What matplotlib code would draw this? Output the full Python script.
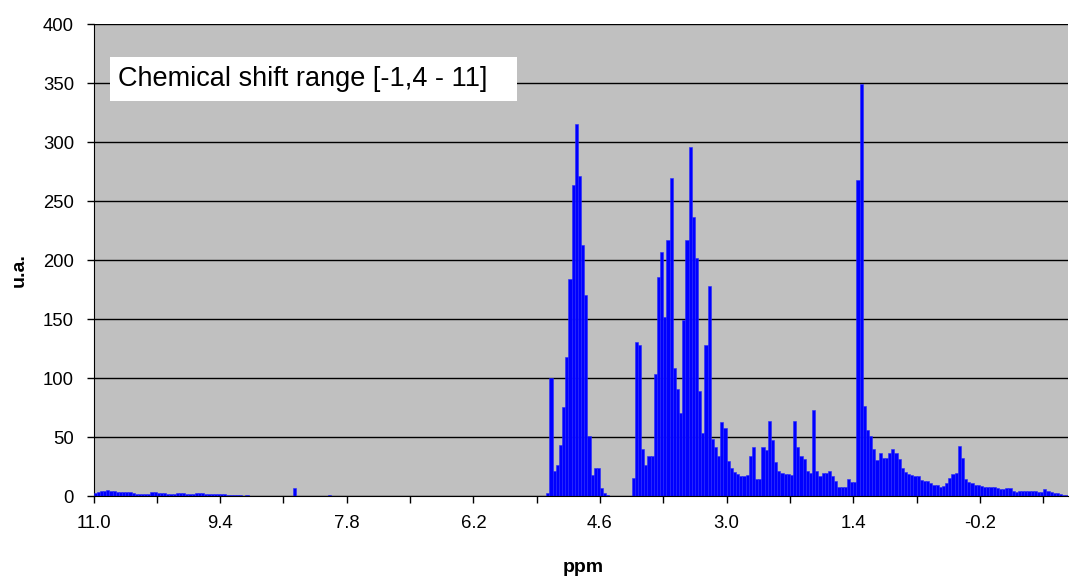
import matplotlib
matplotlib.use('Agg')
import matplotlib.pyplot as plt
from matplotlib.patches import Rectangle
import numpy as np

plt.rcParams['font.family'] = ['Liberation Sans', 'DejaVu Sans']

# category axis: 0.04 ppm bins starting at 11.0 ppm
ppm_start = 11.0
ppm_step = 0.04

# intensities (u.a.) per bin, left to right
low_field = [3, 4, 5, 5, 5.5, 5, 5, 4, 3.7, 3.7, 3.4, 3.4, 2.8, 2.5, 2.5, 2.3,
             2.5, 2.5, 3.7, 3.5, 2.8, 2.8, 2.8, 2.5, 2.5, 2.5, 2.8, 2.8, 2.8,
             2.3, 2.3, 2.5, 2.8, 2.8, 2.8, 2.5, 2.5, 2.5, 2.5, 2.5, 1.7, 1.7,
             1.4, 1.4, 1.4, 1.1, 1.1, 0.8, 1]
gap_1 = [0] * 14
aromatic = [7] + [0] * 10 + [1]
gap_2 = [0] * 68
anomeric = [3, 100, 22, 27, 44, 76, 118, 184, 264, 315, 271, 213, 171, 51,
            18, 24, 24, 7, 3, 1]
gap_3 = [0] * 7
sugar_ring = [16, 131, 128, 40, 27, 34, 34, 104, 186, 207, 152, 217, 270, 109,
              91, 71, 149, 217, 296, 237, 202, 89, 54, 128, 178, 49, 42, 34]
mid_field = [63, 58, 30, 24, 21, 19, 17, 17, 18, 34, 42, 15, 15, 42, 39, 64,
             48, 29, 22, 20, 19, 19, 18, 64, 42, 34, 32, 22, 20, 73, 22, 17,
             20, 20, 22]
methyl = [17, 13, 8, 8, 8, 15, 12, 12, 268, 349, 77, 56, 51, 40, 31, 37, 33,
          33, 37, 40, 37, 32, 24, 21, 19, 18, 17, 17, 14, 13, 13, 11, 10, 10,
          8, 9, 11, 16, 19]
high_field = [20, 43, 33, 15, 12, 11, 10, 10, 8.5, 8, 8, 8, 8, 7.5, 6.5, 6, 7,
              7, 5, 4, 4.5, 4.5, 4.5, 5, 5, 5, 4, 4, 6, 5, 4, 3, 3, 2, 1, 1]

intensity = np.array(low_field + gap_1 + aromatic + gap_2 + anomeric + gap_3
                     + sugar_ring + mid_field + methyl + high_field)
n_bins = len(intensity)
ppm = ppm_start - ppm_step * (np.arange(n_bins) + 0.5)

tick_values = [11.0, 10.2, 9.4, 8.6, 7.8, 7.0, 6.2, 5.4, 4.6, 3.8, 3.0, 2.2,
               1.4, 0.6, -0.2, -1.0]
tick_labels = ['11.0', '', '9.4', '', '7.8', '', '6.2', '', '4.6', '', '3.0',
               '', '1.4', '', '-0.2', '']
y_ticks = [0, 50, 100, 150, 200, 250, 300, 350, 400]

fig = plt.figure(figsize=(10.7, 5.79), dpi=100)
ax = fig.add_axes([0.0874, 0.1425, 0.9106, 0.816])
ax.set_facecolor('#C0C0C0')

ax.bar(ppm, intensity, width=ppm_step, color='#0000FF', edgecolor='#2a2aff',
       linewidth=0.4, zorder=3)

ax.set_xlim(ppm_start, ppm_start - ppm_step * 307.8)
ax.set_ylim(0, 400)
ax.set_yticks(y_ticks)
ax.set_xticks(tick_values)
ax.set_xticklabels(tick_labels)
ax.yaxis.grid(True, color='black', linewidth=1.0, zorder=1)
ax.set_axisbelow(True)

ax.tick_params(axis='both', direction='out', length=5, width=1,
               labelsize=13.3, colors='black')
ax.tick_params(axis='x', pad=8)
ax.tick_params(axis='y', pad=9)

for side in ['top', 'right']:
    ax.spines[side].set_visible(False)
ax.spines['left'].set_color('black')
ax.spines['bottom'].set_color('black')
ax.spines['bottom'].set_zorder(4)

ax.add_patch(Rectangle((0.0169, 0.837), 0.4177, 0.093, transform=ax.transAxes,
                       facecolor='white', edgecolor='none', zorder=5))
ax.text(0.0251, 0.8836, 'Chemical shift range [-1,4 - 11]',
        transform=ax.transAxes, fontsize=19.5, va='center', ha='left', zorder=6)

fig.text(583 / 1070, 1 - 568 / 579, 'ppm', fontsize=14, fontweight='bold',
         ha='center', va='center')
fig.text(19 / 1070, 1 - 270 / 579, 'u.a.', fontsize=14, fontweight='bold',
         ha='center', va='center', rotation=90)

fig.savefig('out.png', dpi=100)
